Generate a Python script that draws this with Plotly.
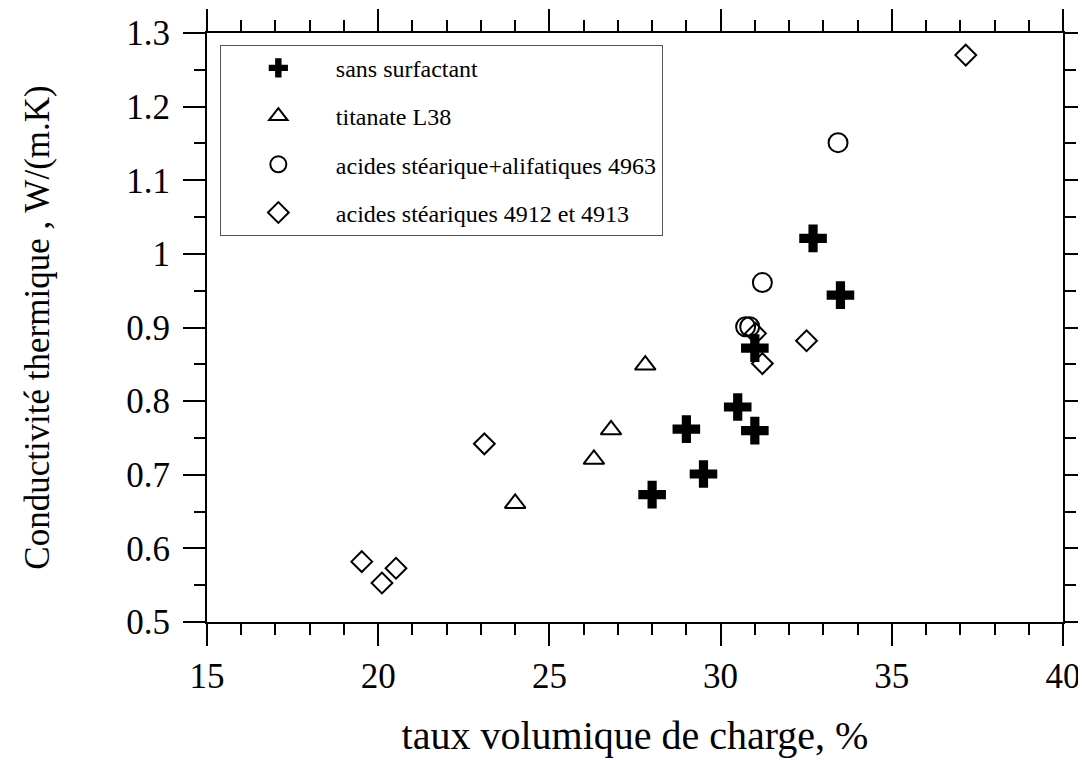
import plotly.graph_objects as go

# Data
sans_x = [28.0, 29.5, 29.0, 30.5, 31.0, 31.0, 32.7, 33.5]
sans_y = [0.673, 0.701, 0.762, 0.792, 0.760, 0.872, 1.021, 0.944]

tit_x = [24.0, 26.3, 26.8, 27.8]
tit_y = [0.661, 0.721, 0.761, 0.849]

ali_x = [30.73, 30.85, 31.22, 33.43]
ali_y = [0.901, 0.901, 0.961, 1.151]

ste_x = [19.52, 20.11, 20.52, 23.1, 31.02, 31.22, 32.51, 37.16]
ste_y = [0.582, 0.553, 0.573, 0.742, 0.892, 0.851, 0.882, 1.270]

names = ["sans surfactant", "titanate L38",
         "acides stéarique+alifatiques 4963", "acides stéariques 4912 et 4913"]

FONT = "Liberation Serif"

fig = go.Figure()
fig.add_trace(go.Scatter(x=sans_x, y=sans_y, mode="markers", name=names[0], legendgroup="a",
                         marker=dict(symbol="cross", size=23, color="black", line=dict(width=0))))
fig.add_trace(go.Scatter(x=tit_x, y=tit_y, mode="markers", name=names[1], legendgroup="b",
                         marker=dict(symbol="triangle-up-open", size=18, color="black", line=dict(width=2))))
fig.add_trace(go.Scatter(x=ali_x, y=ali_y, mode="markers", name=names[2], legendgroup="c",
                         marker=dict(symbol="circle-open", size=19, color="black", line=dict(width=2))))
fig.add_trace(go.Scatter(x=ste_x, y=ste_y, mode="markers", name=names[3], legendgroup="d",
                         marker=dict(symbol="diamond-open", size=16, color="black", line=dict(width=2))))

tick_font = dict(family=FONT, size=35, color="black")
axis_common = dict(showline=True, linecolor="black", linewidth=2, mirror="allticks",
                   ticks="outside", ticklen=22, tickwidth=2, tickcolor="black",
                   showgrid=False, zeroline=False, tickfont=tick_font, automargin=False)

fig.update_xaxes(range=[15, 40], dtick=5, tick0=15,
                 minor=dict(dtick=1, ticks="outside", ticklen=11, tickwidth=2, tickcolor="black", showgrid=False),
                 title=dict(text="taux volumique de charge, %", font=dict(family=FONT, size=40, color="black"), standoff=26),
                 **axis_common)
fig.update_yaxes(range=[0.5, 1.3], dtick=0.1, tick0=0.5, ticklabelstandoff=6,
                 minor=dict(dtick=0.05, ticks="outside", ticklen=11, tickwidth=2, tickcolor="black", showgrid=False),
                 title=dict(text="Conductivité thermique , W/(m.K)", font=dict(family=FONT, size=35, color="black"), standoff=66),
                 **axis_common)

fig.update_layout(
    width=1086, height=760,
    margin=dict(l=199, r=31, t=25, b=146),
    plot_bgcolor="white", paper_bgcolor="white",
    font=dict(family=FONT, size=26, color="black"),
    legend=dict(x=0.015, y=0.98, xanchor="left", yanchor="top",
                bordercolor="#555555", borderwidth=1, bgcolor="white",
                font=dict(family=FONT, size=24, color="black"),
                tracegroupgap=14, itemwidth=105),
)

fig.write_html("out.html")
